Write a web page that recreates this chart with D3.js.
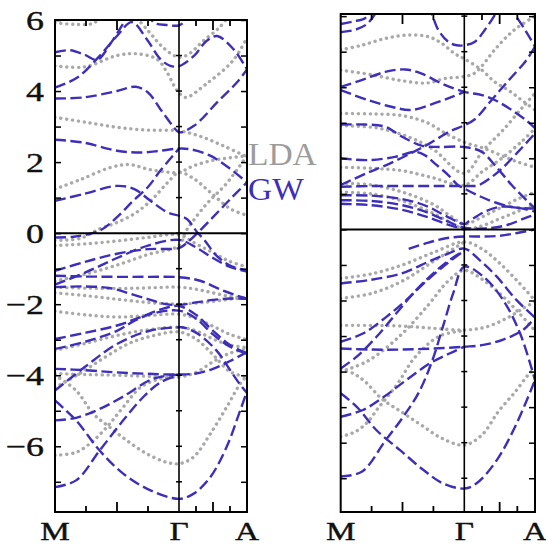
<!DOCTYPE html>
<html><head><meta charset="utf-8">
<script src="https://cdn.jsdelivr.net/npm/d3@7"></script>
<style>body{margin:0;background:#fff}svg{display:block}</style>
</head><body>
<svg id="c" width="546" height="545"></svg>
<script>
// k path: 0 = M, 1 = Γ, 2 = A ; values are energies in eV
const kLabels = ["M", "Γ", "A"];
const yTickLabels = [6, 4, 2, 0, -2, -4, -6];
const legendLabels = ["LDA", "GW"];

// ---------- left panel, GW (dashed) ----------
const leftGW1 = [[0,5.09],[0.12,5.15],[0.24,5.02],[0.34,4.88],[0.45,5.35],[0.55,5.9],[0.63,6.35],[0.72,6.3],[0.8,5.92],[0.9,5.86],[1,5.85],[1.1,6.0],[1.2,6.4]];
const leftGW2 = [[0,4.1],[0.18,4.38],[0.36,4.99],[0.5,5.55],[0.62,5.94],[0.74,5.46],[0.85,4.9],[0.93,4.71],[1,4.7],[1.22,4.99],[1.4,5.4],[1.56,5.55],[1.8,5.18],[2,4.61]];
const leftGW3 = [[0,3.79],[0.23,3.82],[0.5,4.0],[0.65,4.12],[0.75,3.96],[0.85,3.49],[0.95,3.02],[1,2.84],[1.22,3.02],[1.56,3.68],[1.85,4.24],[2,4.61]];
const leftGW4 = [[0,2.63],[0.23,2.55],[0.5,2.32],[0.69,2.27],[0.85,2.32],[1,2.38],[1.17,2.36],[1.46,2.18],[1.76,1.8],[2,1.43]];
const leftGW5 = [[0,0.91],[0.23,1.1],[0.5,1.33],[0.64,1.24],[0.77,0.91],[0.91,0.58],[1,0.49],[1.12,0.39],[1.27,0.02],[1.36,-0.16],[1.55,-0.63],[1.75,-0.91],[2,-1.06]];
const leftGW6 = [[0,-0.12],[0.15,-0.1],[0.36,0.07],[0.5,0.45],[0.63,0.91],[0.75,1.3],[0.85,1.76],[1,2.38]];
const leftGW7 = [[0,-1.06],[0.25,-0.8],[0.5,-0.58],[0.75,-0.45],[1,-0.42],[1.1,-0.3],[1.27,0],[1.5,0.45],[1.75,0.95],[2,1.43]];
const leftGW8 = [[0,-1.45],[0.25,-1.1],[0.5,-0.7],[0.75,-0.35],[1,-0.19],[1.25,-0.4],[1.5,-0.7],[1.75,-0.95],[2,-1.08]];
const leftGW9 = [[0,-1.2],[0.25,-1.22],[0.5,-1.23],[0.75,-1.23],[1,-1.24],[1.31,-1.34],[1.65,-1.62],[2,-1.85]];
const leftGW10 = [[0,-1.52],[0.25,-1.5],[0.45,-1.55],[0.6,-1.7],[0.77,-1.88],[0.9,-2.0],[1,-2.02],[1.25,-1.95],[1.5,-1.88],[1.75,-1.84],[2,-1.85]];
const leftGW11 = [[0,-2.98],[0.25,-2.8],[0.5,-2.6],[0.7,-2.35],[0.85,-2.15],[1,-2.05],[1.25,-2.3],[1.5,-2.75],[1.75,-3.15],[2,-3.39]];
const leftGW12 = [[0,-3.26],[0.25,-3.05],[0.5,-2.75],[0.65,-2.45],[0.8,-2.25],[1,-2.18],[1.25,-2.4],[1.5,-2.85],[1.75,-3.2],[2,-3.39]];
const leftGW13 = [[0,-3.82],[0.25,-3.86],[0.5,-3.92],[0.75,-3.96],[1,-3.98],[1.25,-3.95],[1.5,-3.82],[1.75,-3.6],[2,-3.35]];
const leftGW14 = [[0,-4.43],[0.24,-3.77],[0.5,-3.12],[0.77,-2.74],[1,-2.65],[1.05,-2.65],[1.25,-2.8],[1.55,-3.3],[1.75,-3.85],[1.89,-4.24],[2,-4.5]];
const leftGW15 = [[0,-5.27],[0.17,-5.2],[0.36,-4.95],[0.55,-4.6],[0.79,-4.1],[1,-3.98]];
const leftGW16 = [[0,-4.71],[0.17,-5.27],[0.36,-6.12],[0.55,-6.77],[0.77,-7.24],[1,-7.48],[1.21,-7.34],[1.46,-6.87],[1.7,-6.02],[1.9,-4.99],[2,-4.45]];
const leftGW17 = [[0,-7.15],[0.17,-6.96],[0.36,-6.12],[0.55,-5.27],[0.71,-4.62],[0.85,-4.2],[1,-4.0]];

// ---------- left panel, LDA (dotted) ----------
const leftLDA1 = [[0,5.92],[0.15,5.88],[0.3,5.9],[0.42,6.2]];
const leftLDA2 = [[0,4.71],[0.24,4.68],[0.5,5.0],[0.66,5.05],[0.82,4.9],[0.9,4.55],[0.96,4.15],[1,3.95],[1.1,3.82],[1.4,4.2],[1.79,4.85],[2,5.5]];
const leftLDA3 = [[0.6,6.3],[0.75,5.7],[0.88,5.2],[1,4.95],[1.15,5.05],[1.35,5.4],[1.6,5.8],[1.8,6.3]];
const leftLDA4 = [[0,3.26],[0.25,3.12],[0.5,2.98],[0.75,2.9],[1,2.88],[1.32,2.72],[1.66,2.45],[2,2.15]];
const leftLDA5 = [[0,1.24],[0.2,1.5],[0.45,1.85],[0.6,1.93],[0.75,1.8],[0.9,1.72],[1,1.71],[1.22,1.9],[1.5,2.05],[1.75,2.12],[2,2.18]];
const leftLDA6 = [[0,-0.2],[0.2,-0.15],[0.36,0.12],[0.5,0.3],[0.66,0.59],[0.8,1.01],[0.91,1.43],[1,1.71],[1.22,1.53],[1.46,1.15],[1.76,0.68],[2,0.5]];
const leftLDA7 = [[0,-0.35],[0.25,-0.3],[0.5,-0.22],[0.75,-0.12],[1,-0.05],[1.25,-0.3],[1.5,-0.55],[1.75,-0.8],[2,-0.95]];
const leftLDA8 = [[0,-1.35],[0.25,-1.15],[0.5,-0.9],[0.75,-0.6],[1,-0.35],[1.1,0.05],[1.21,0.35],[1.41,0.83],[1.7,1.4],[2,2.18]];
const leftLDA9 = [[0,-1.52],[0.25,-1.55],[0.5,-1.56],[0.75,-1.54],[1,-1.52],[1.25,-1.58],[1.5,-1.68],[1.75,-1.78],[2,-1.82]];
const leftLDA10 = [[0,-1.68],[0.25,-1.76],[0.5,-1.86],[0.75,-1.95],[1,-2.0],[1.25,-1.97],[1.5,-1.92],[1.75,-1.86],[2,-1.82]];
const leftLDA11 = [[0,-2.2],[0.25,-2.3],[0.5,-2.36],[0.75,-2.32],[1,-2.28],[1.25,-2.4],[1.5,-2.62],[1.75,-2.85],[2,-3.0]];
const leftLDA12 = [[0,-3.3],[0.25,-3.1],[0.5,-2.88],[0.75,-2.72],[1,-2.65],[1.25,-2.75],[1.5,-2.98],[1.75,-3.15],[2,-3.22]];
const leftLDA13 = [[0,-3.95],[0.25,-3.98],[0.5,-4.0],[0.75,-4.03],[1,-4.05],[1.25,-3.92],[1.5,-3.62],[1.75,-3.38],[2,-3.25]];
const leftLDA14 = [[0,-4.35],[0.2,-3.95],[0.4,-3.5],[0.6,-3.1],[0.8,-2.88],[1,-2.78],[1.25,-2.98],[1.5,-3.42],[1.75,-3.9],[2,-4.05]];
const leftLDA15 = [[0,-4.0],[0.17,-4.43],[0.31,-5.09],[0.44,-5.46],[0.58,-5.84],[0.74,-6.21],[0.9,-6.45],[1,-6.49],[1.21,-6.31],[1.46,-5.65],[1.7,-4.9],[1.9,-4.24],[2,-4.02]];
const leftLDA16 = [[0,-6.25],[0.17,-6.17],[0.31,-5.84],[0.44,-5.37],[0.55,-4.9],[0.69,-4.34],[0.85,-4.1],[1,-4.05]];

// ---------- right panel, GW (dashed) ----------
const rightGW1 = [[0,5.55],[0.12,5.62],[0.22,5.8],[0.32,6.3]];
const rightGW2 = [[0,5.78],[0.1,5.85],[0.2,5.95],[0.28,6.3]];
const rightGW3 = [[0.7,6.3],[0.74,6.03],[0.79,5.61],[0.87,5.28],[0.94,5.18],[1,5.18],[1.15,5.28],[1.29,5.61],[1.43,6.03],[1.5,6.3]];
const rightGW4 = [[1.62,6.3],[1.72,6.03],[1.86,5.61],[2,5.14]];
const rightGW5 = [[0,4.01],[0.17,4.2],[0.36,4.43],[0.52,4.5],[0.65,4.39],[0.82,4.1],[1,3.87],[1.25,3.78],[1.43,3.64],[1.67,3.36],[1.9,3.03],[2,2.85]];
const rightGW6 = [[0,3.92],[0.22,3.64],[0.41,3.45],[0.57,3.36],[0.76,3.55],[0.9,3.73],[1,3.87]];
const rightGW7 = [[0,2.95],[0.2,2.95],[0.36,2.89],[0.5,2.6],[0.66,2.35],[0.8,2.32],[1,2.32],[1.25,2.18],[1.43,1.81],[1.67,1.25],[1.9,0.78],[2,0.59]];
const rightGW8 = [[0,1.25],[0.21,1.58],[0.4,1.86],[0.59,2.18],[0.72,2.42],[0.88,2.75],[1,2.93],[1.15,3.1],[1.39,3.65],[1.63,4.2],[1.87,4.74],[2,5.14]];
const rightGW9 = [[0,2.0],[0.22,1.95],[0.44,2.04],[0.6,2.18],[0.68,2.09],[0.76,1.86],[0.87,1.53],[0.95,1.24],[1,1.15],[1.2,0.95],[1.45,0.75],[1.7,0.62],[2,0.59]];
const rightGW10 = [[0,1.2],[0.25,1.22],[0.5,1.22],[0.75,1.22],[1,1.22],[1.1,1.22],[1.2,1.24],[1.48,1.62],[1.76,2.18],[2,2.7]];
const rightGW11 = [[0,0.96],[0.25,0.95],[0.5,0.85],[0.7,0.65],[0.85,0.38],[1,0.15],[1.06,0.22],[1.29,0.5],[1.53,0.64],[1.81,0.59],[2,0.5]];
const rightGW12 = [[0,0.82],[0.25,0.8],[0.5,0.68],[0.7,0.48],[0.85,0.25],[1,0.05],[1.3,0.03],[1.6,0.12],[1.85,0.31],[2,0.42]];
const rightGW13 = [[0,0.72],[0.25,0.68],[0.5,0.55],[0.7,0.35],[0.9,0.1],[1,0.02]];
const rightGW14 = [[0.55,-0.55],[0.7,-0.38],[0.85,-0.25],[1,-0.2],[1.25,-0.2],[1.5,-0.18],[1.75,-0.1],[2,0.0]];
const rightGW15 = [[0,-1.52],[0.22,-1.43],[0.49,-1.24],[0.71,-0.91],[0.87,-0.68],[1,-0.54],[1.22,-0.87],[1.46,-1.33],[1.74,-1.99],[2,-2.48]];
const rightGW16 = [[0,-3.16],[0.18,-2.93],[0.37,-2.46],[0.53,-1.99],[0.7,-1.43],[0.86,-0.96],[1,-0.6]];
const rightGW17 = [[0,-3.91],[0.13,-3.58],[0.29,-3.02],[0.45,-2.36],[0.61,-1.71],[0.78,-1.14],[0.94,-0.72],[1,-0.62]];
const rightGW18 = [[0,-3.35],[0.25,-3.38],[0.5,-3.38],[0.75,-3.35],[1,-3.3],[1.27,-3.25],[1.55,-3.1],[1.83,-2.83],[2,-2.48]];
const rightGW19 = [[0,-5.27],[0.18,-5.08],[0.35,-4.71],[0.53,-4.24],[0.72,-3.77],[0.88,-3.49],[1,-3.3]];
const rightGW20 = [[0,-4.61],[0.13,-4.99],[0.29,-5.65],[0.48,-6.21],[0.67,-6.77],[0.83,-7.15],[1,-7.29],[1.17,-7.15],[1.46,-6.49],[1.74,-5.46],[2,-4.24]];
const rightGW21 = [[0,-6.95],[0.17,-6.82],[0.36,-5.95],[0.5,-5.3],[0.63,-4.6],[0.74,-3.7],[0.83,-2.7],[0.91,-1.8],[1,-1.05],[1.27,-1.33],[1.55,-1.99],[1.79,-2.93],[2,-4.24]];

// ---------- right panel, LDA (dotted) ----------
const rightLDA1 = [[0,5.05],[0.17,5.18],[0.36,5.37],[0.55,5.47],[0.71,5.42],[0.82,5.23],[0.92,4.95],[1,4.8],[1.25,4.48],[1.43,4.15],[1.62,3.92],[1.81,3.64],[2,3.36]];
const rightLDA2 = [[0,4.48],[0.25,4.35],[0.5,4.18],[0.7,4.12],[0.85,4.25],[1,4.3],[1.15,4.4],[1.25,4.6],[1.45,5.1],[1.7,5.6],[2,6.0]];
const rightLDA3 = [[0,3.26],[0.25,3.25],[0.5,3.2],[0.7,3.0],[0.85,2.7],[1,2.45],[1.25,2.3],[1.5,2.1],[1.75,1.9],[2,1.75]];
const rightLDA4 = [[0,2.92],[0.3,2.85],[0.55,2.6],[0.75,2.25],[1,1.58],[1.27,2.23],[1.55,2.8],[1.83,3.45],[2,3.83]];
const rightLDA5 = [[0,1.75],[0.25,1.72],[0.5,1.65],[0.75,1.45],[1,1.24],[1.25,1.62],[1.53,2.0],[1.81,2.47],[2,2.84]];
const rightLDA6 = [[0,1.3],[0.25,1.25],[0.5,1.05],[0.75,0.7],[0.9,0.35],[1,0.15],[1.25,0.35],[1.5,0.6],[1.75,0.85],[2,1.05]];
const rightLDA7 = [[0,1.05],[0.25,1.0],[0.5,0.8],[0.75,0.45],[1,0.02],[1.25,0.1],[1.5,0.3],[1.75,0.5],[2,0.7]];
const rightLDA8 = [[0,-1.38],[0.25,-1.25],[0.5,-1.0],[0.75,-0.65],[1,-0.35],[1.25,-0.55],[1.5,-0.95],[1.75,-1.45],[2,-2.0]];
const rightLDA9 = [[0,-1.94],[0.25,-1.8],[0.5,-1.45],[0.75,-0.9],[1,-0.35]];
const rightLDA10 = [[0,-2.7],[0.25,-2.7],[0.5,-2.72],[0.75,-2.78],[1,-2.83],[1.3,-2.75],[1.6,-2.5],[1.85,-2.2],[2,-2.04]];
const rightLDA11 = [[0,-4.0],[0.22,-3.7],[0.49,-2.96],[0.71,-2.12],[0.87,-1.45],[1,-1.15],[1.25,-1.4],[1.5,-1.8],[1.75,-2.3],[2,-2.85]];
const rightLDA12 = [[0,-5.83],[0.12,-5.69],[0.22,-5.41],[0.3,-5.04],[0.39,-4.66],[0.47,-4.29],[0.6,-3.6],[0.8,-3.0],[1,-2.85]];
const rightLDA13 = [[0,-3.95],[0.1,-4.05],[0.2,-4.29],[0.33,-4.76],[0.49,-5.13],[0.65,-5.5],[0.82,-5.88],[1,-6.07],[1.25,-5.78],[1.48,-5.13],[1.72,-4.57],[1.9,-4.1],[2,-3.9]];

const leftGW = [leftGW1,leftGW2,leftGW3,leftGW4,leftGW5,leftGW6,leftGW7,leftGW8,leftGW9,leftGW10,leftGW11,leftGW12,leftGW13,leftGW14,leftGW15,leftGW16,leftGW17];
const leftLDA = [leftLDA1,leftLDA2,leftLDA3,leftLDA4,leftLDA5,leftLDA6,leftLDA7,leftLDA8,leftLDA9,leftLDA10,leftLDA11,leftLDA12,leftLDA13,leftLDA14,leftLDA15,leftLDA16];
const rightGW = [rightGW1,rightGW2,rightGW3,rightGW4,rightGW5,rightGW6,rightGW7,rightGW8,rightGW9,rightGW10,rightGW11,rightGW12,rightGW13,rightGW14,rightGW15,rightGW16,rightGW17,rightGW18,rightGW19,rightGW20,rightGW21];
const rightLDA = [rightLDA1,rightLDA2,rightLDA3,rightLDA4,rightLDA5,rightLDA6,rightLDA7,rightLDA8,rightLDA9,rightLDA10,rightLDA11,rightLDA12,rightLDA13];

const BLUE = "#3d2fba", GRAY = "#a9a9a9";
const svg = d3.select("#c");
const FONT = "Liberation Serif";
const STRETCH = 1.28;

function panel(id, box, eDomain, gw, lda, showY) {
  const x = d3.scaleLinear().domain([0, 1, 2]).range([box.m, box.g, box.a]);
  const y = d3.scaleLinear().domain(eDomain).range([box.bottom, box.top]);
  const g = svg.append("g");
  g.append("clipPath").attr("id", id).append("rect")
    .attr("x", box.m).attr("y", box.top).attr("width", box.a - box.m).attr("height", box.bottom - box.top);
  const line = d3.line().x(d => x(d[0])).y(d => y(d[1])).curve(d3.curveCatmullRom.alpha(0.5));
  const bands = g.append("g").attr("clip-path", `url(#${id})`);
  bands.selectAll("path.lda").data(lda).join("path").attr("class", "lda")
    .attr("d", line).attr("fill", "none").attr("stroke", GRAY).attr("stroke-width", 3.4)
    .attr("stroke-linecap", "round").attr("stroke-dasharray", "0.1,5.8");
  bands.selectAll("path.gw").data(gw).join("path").attr("class", "gw")
    .attr("d", line).attr("fill", "none").attr("stroke", BLUE).attr("stroke-width", 2.4)
    .attr("stroke-dasharray", "11,4.5");

  // zero line and Γ line
  g.append("line").attr("x1", box.m).attr("x2", box.a).attr("y1", y(0)).attr("y2", y(0))
    .attr("stroke", "#000").attr("stroke-width", 2);
  g.append("line").attr("x1", x(1)).attr("x2", x(1)).attr("y1", box.top).attr("y2", box.bottom)
    .attr("stroke", "#000").attr("stroke-width", 1.6);

  // y ticks (inward) on both sides + Γ line
  const yt = d3.range(Math.ceil(eDomain[0]), Math.floor(eDomain[1]) + 1);
  const al = g.append("g").attr("transform", `translate(${box.m},0)`)
    .call(d3.axisLeft(y).tickValues(yt).tickSize(-6).tickFormat(""));
  al.select(".domain").remove();
  al.selectAll(".tick line").attr("stroke-width", 1.5);
  const ar = g.append("g").attr("transform", `translate(${box.a},0)`)
    .call(d3.axisRight(y).tickValues(yt).tickSize(-6).tickFormat(""));
  ar.select(".domain").remove();
  ar.selectAll(".tick line").attr("stroke-width", 1.5);
  g.selectAll("line.gt").data(yt).join("line").attr("class", "gt")
    .attr("x1", x(1) - 3).attr("x2", x(1) + 3).attr("y1", d => y(d)).attr("y2", d => y(d))
    .attr("stroke", "#000").attr("stroke-width", 1.5);

  if (showY) {
    const fmt = d3.format("d");
    g.selectAll("text.yl").data(yTickLabels).join("text").attr("class", "yl")
      .attr("transform", d => `translate(${box.m - 11},${y(d)}) scale(${STRETCH},1)`)
      .attr("dy", "0.34em").attr("text-anchor", "end")
      .attr("font-family", FONT).attr("font-size", 28).attr("fill", "#111")
      .attr("stroke", "#111").attr("stroke-width", 0.4).text(d => fmt(d));
  }

  // k ticks top and bottom
  const kt = [0.25, 0.5, 0.75, 1.25, 1.5, 1.75];
  const len = d => (d === 0.5 || d === 1.5) ? 10 : 6;
  g.selectAll("line.kb").data(kt).join("line").attr("class", "kb")
    .attr("x1", d => x(d)).attr("x2", d => x(d)).attr("y1", box.bottom).attr("y2", d => box.bottom - len(d))
    .attr("stroke", "#000").attr("stroke-width", 1.8);
  g.selectAll("line.kt").data(kt).join("line").attr("class", "kt")
    .attr("x1", d => x(d)).attr("x2", d => x(d)).attr("y1", box.top).attr("y2", d => box.top + len(d))
    .attr("stroke", "#000").attr("stroke-width", 1.8);

  // frame
  g.append("rect").attr("x", box.m).attr("y", box.top).attr("width", box.a - box.m).attr("height", box.bottom - box.top)
    .attr("fill", "none").attr("stroke", "#000").attr("stroke-width", 2);

  // k labels
  g.selectAll("text.kl").data(kLabels).join("text").attr("class", "kl")
    .attr("transform", (d, i) => `translate(${x(i)},540) scale(${STRETCH},1)`)
    .attr("text-anchor", "middle")
    .attr("font-family", FONT).attr("font-size", 26).attr("fill", "#111")
    .attr("stroke", "#111").attr("stroke-width", 0.4).text(d => d);
}

panel("clipL", {m: 55, g: 179, a: 247, top: 20, bottom: 512}, [-7.85, 6], leftGW, leftLDA, true);
panel("clipR", {m: 340.7, g: 464.3, a: 535, top: 14, bottom: 512}, [-7.95, 6.06], rightGW, rightLDA, false);

svg.selectAll("text.leg").data(legendLabels).join("text").attr("class", "leg")
  .attr("x", 248).attr("y", (d, i) => 165 + i * 35)
  .attr("font-family", FONT).attr("font-size", 31)
  .attr("transform", "translate(248,0) scale(1.08,1) translate(-248,0)")
  .attr("fill", (d, i) => i === 0 ? "#9c9c9c" : BLUE).text(d => d);
</script>
</body></html>
